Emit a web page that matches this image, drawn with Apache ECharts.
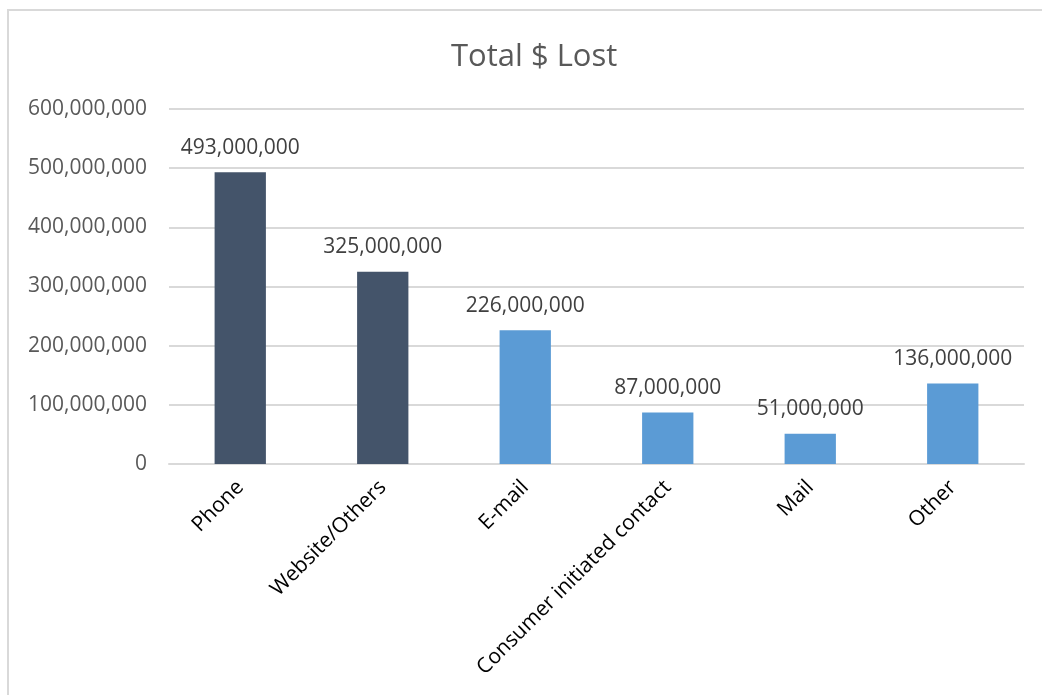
<!DOCTYPE html>
<html>
<head>
<meta charset="utf-8">
<script src="https://cdn.jsdelivr.net/npm/echarts@6/dist/echarts.min.js"></script>
<style>
  html, body { margin: 0; padding: 0; background: #fff; }
  #chart { width: 1042px; height: 695px; }
</style>
</head>
<body>
<div id="chart"></div>
<script>
const categories = ['Phone', 'Website/Others', 'E-mail', 'Consumer initiated contact', 'Mail', 'Other']
const lostValues = [493000000, 325000000, 226000000, 87000000, 51000000, 136000000]
const barColors = ['#44546A', '#44546A', '#5B9BD5', '#5B9BD5', '#5B9BD5', '#5B9BD5']

const fmt = v => v.toLocaleString('en-US')
const font = '"Open Sans", sans-serif'

const chart = echarts.init(document.getElementById('chart'))

chart.setOption({
  animation: false,
  backgroundColor: '#fff',
  title: {
    text: 'Total $ Lost',
    left: 446,
    top: 37,
    textStyle: { color: '#595959', fontSize: 31, fontWeight: 'normal', fontFamily: font }
  },
  graphic: [
    {
      type: 'rect',
      shape: { x: 8, y: 10, width: 1100, height: 750 },
      style: { fill: 'none', stroke: '#D9D9D9', lineWidth: 2 },
      silent: true
    }
  ],
  grid: { left: 169, right: 18, top: 109, bottom: 231 },
  xAxis: {
    type: 'category',
    data: categories,
    axisLine: { lineStyle: { color: '#D9D9D9', width: 2 } },
    axisTick: { show: false },
    axisLabel: {
      rotate: 45,
      interval: 0,
      margin: 20,
      color: '#000',
      fontSize: 21,
      fontFamily: font
    }
  },
  yAxis: {
    type: 'value',
    min: 0,
    max: 600000000,
    interval: 100000000,
    axisLine: { show: false },
    axisTick: { show: false },
    splitLine: { lineStyle: { color: '#D9D9D9', width: 2 } },
    axisLabel: {
      margin: 22,
      color: '#595959',
      fontSize: 21,
      fontFamily: font,
      formatter: v => fmt(v)
    }
  },
  series: [
    {
      type: 'bar',
      barWidth: '36%',
      data: lostValues.map((v, i) => ({ value: v, itemStyle: { color: barColors[i] } })),
      label: {
        show: true,
        position: 'top',
        distance: 14,
        color: '#404040',
        fontSize: 21,
        fontFamily: font,
        formatter: p => fmt(p.value)
      }
    }
  ]
})
</script>
</body>
</html>
